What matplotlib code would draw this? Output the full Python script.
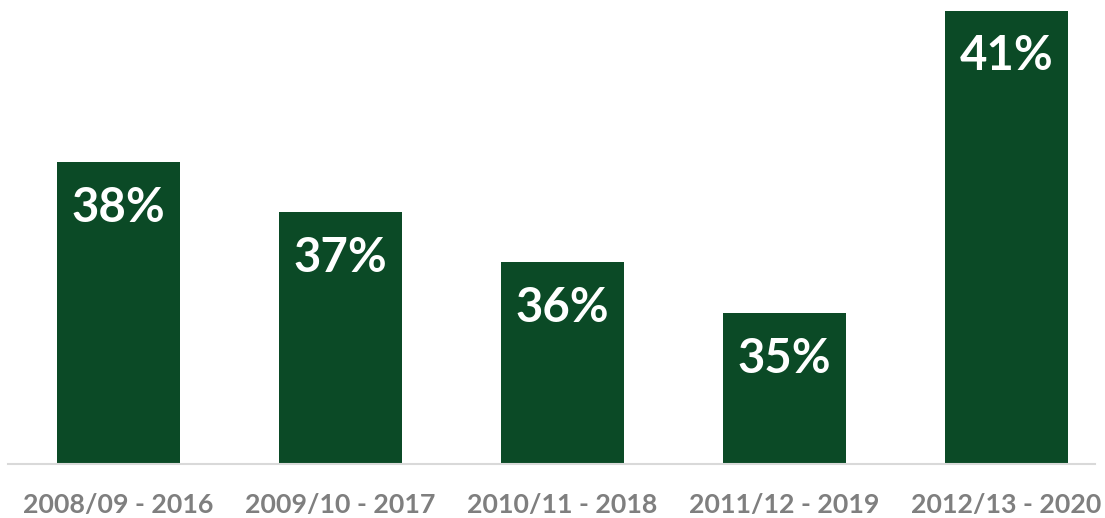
import matplotlib
matplotlib.use("Agg")
import matplotlib.pyplot as plt

periods = ["2008/09 - 2016", "2009/10 - 2017", "2010/11 - 2018", "2011/12 - 2019", "2012/13 - 2020"]
rates = [38, 37, 36, 35, 41]

plt.rcParams['font.family'] = ['Lato', 'DejaVu Sans']

fig = plt.figure(figsize=(11.05, 5.18), dpi=100)
ax = fig.add_axes([0, 0.1042, 1, 0.8958])

x = list(range(len(periods)))
ax.bar(x, rates, width=0.554, color="#0b4a26", zorder=2)

for xi, v in zip(x, rates):
    ax.annotate(f"{v}%", (xi, v), xytext=(0, -33), textcoords="offset points",
                ha="center", va="center", color="white", fontsize=34, fontweight="bold")

ax.set_xlim(-0.534, 4.443)
ax.set_ylim(32, 41.21)
ax.set_xticks(x)
ax.set_xticklabels(periods, fontsize=19.3, fontweight="bold", color="#7f7f7f")
ax.tick_params(axis="x", length=0, pad=21)
ax.set_yticks([])
for s in ["top", "right", "left"]:
    ax.spines[s].set_visible(False)
ax.spines["bottom"].set_color("#d9d9d9")
ax.spines["bottom"].set_linewidth(1.5)
ax.spines["bottom"].set_bounds(-0.498, 4.40)

fig.savefig("out.png", dpi=100)
